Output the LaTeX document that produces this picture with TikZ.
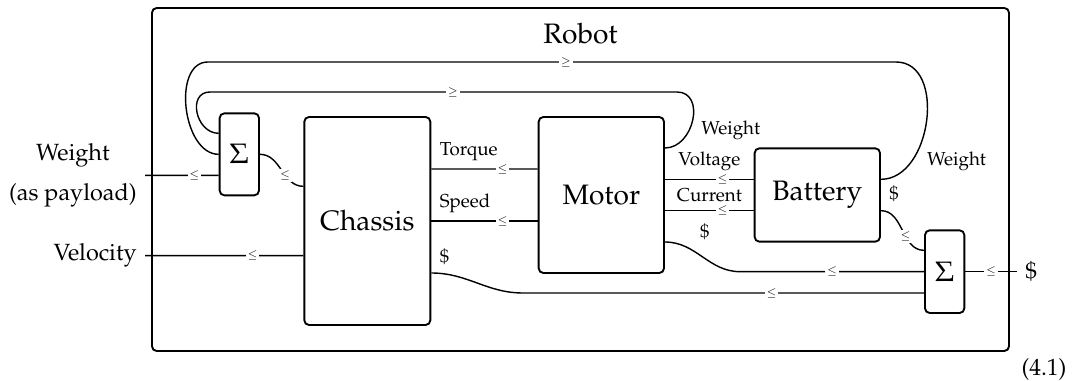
\documentclass[tikz,border=0pt]{standalone}
\usepackage[T1]{fontenc}
\usepackage{mathpazo}
\usepackage{tikz}
\usetikzlibrary{positioning}

\begin{document}
\begin{tikzpicture}[
  box/.style={draw,thick,rectangle,rounded corners=2pt,inner sep=0pt,align=center},
  wire/.style={semithick},
  ord/.style={fill=white,inner sep=0.8pt,font=\tiny},
  port/.style={font=\footnotesize}
]
% Wiring diagram of the robot
\useasboundingbox (0,0) rectangle (16.125,5.715);
\node[box,minimum width=12.855cm,minimum height=5.145cm] (robot) at (8.7075,3.0225) {};
\node[below=0.12cm of robot.north] (robotlbl) {\large Robot};

\node[box,minimum width=0.59cm,minimum height=1.23cm] (sumL) at (3.59,3.40) {\large$\Sigma$};
\node[box,minimum width=1.89cm,minimum height=3.12cm] (chassis) at (5.51,2.40) {\large Chassis};
\node[box,minimum width=1.88cm,minimum height=2.34cm] (motor) at (9.02,2.79) {\large Motor};
\node[box,minimum width=1.88cm,minimum height=1.40cm] (battery) at (12.26,2.79) {\large Battery};
\node[box,minimum width=0.59cm,minimum height=1.24cm] (sumR) at (14.17,1.64) {\large$\Sigma$};

\coordinate (win) at (2.175,3.085);
\coordinate (vin) at (2.175,1.88);
\coordinate (cout) at (15.255,1.64);

% outside ports
\node[left,align=center] (wlbl) at (win) {Weight\\[5pt](as payload)};
\node[left] (vlbl) at (vin) {Velocity};
\node[right] (clbl) at (cout) {\$};
\draw[wire] (win) -- node[ord,pos=0.67] (o1) {$\leq$} ([yshift=-0.315cm]sumL.west);
\draw[wire] (vin) -- node[ord,pos=0.68] (o2) {$\leq$} ([yshift=-0.52cm]chassis.west);
\draw[wire] (sumR.east) -- node[ord] (o3) {$\leq$} (cout);

% inner wires
\draw[wire] (sumL.east) to[out=0,in=180] node[ord,pos=0.6] (o4) {$\leq$} ([yshift=0.52cm]chassis.west);
\draw[wire] ([yshift=0.78cm]chassis.east) -- node[ord,pos=0.67] (o5) {$\leq$} node[port,pos=0,above right] (tq) {Torque} ([yshift=0.39cm]motor.west);
\draw[wire] (chassis.east) -- node[ord,pos=0.67] (o6) {$\leq$} node[port,pos=0,above right] (sp) {Speed} ([yshift=-0.39cm]motor.west);
\draw[wire] ([yshift=0.235cm]motor.east) -- node[ord,pos=0.65] (o7) {$\leq$} node[port,above] (vo) {Voltage} ([yshift=0.235cm]battery.west);
\draw[wire] ([yshift=-0.235cm]motor.east) -- node[ord,pos=0.65] (o8) {$\leq$} node[port,above] (cu) {Current} ([yshift=-0.235cm]battery.west);

% weight loops
\draw[wire] ([yshift=0.705cm]motor.east) to[out=0,in=0,looseness=1.3] node[port,right,yshift=-0.15cm] (mw) {Weight} (10.155,4.335)
  -- node[ord,pos=0.48] (o9) {$\geq$} (3.15,4.335) to[out=180,in=180,looseness=1.4] ([yshift=0.315cm]sumL.west);
\draw[wire] ([yshift=0.235cm]battery.east) to[out=0,in=0,looseness=1.1] node[port,pos=0.25,right,xshift=0.1cm] (bw) {Weight} (13.44,4.785)
  -- node[ord,pos=0.48] (o10) {$\geq$} (3.12,4.785) to[out=180,in=180] (sumL.west);

% cost wires
\draw[wire] ([yshift=-0.235cm]battery.east) to[out=0,in=180] node[ord,pos=0.6] (o11) {$\leq$} node[port,pos=0,above right] (bc) {\$} ([yshift=0.32cm]sumR.west);
\draw[wire] ([yshift=-0.705cm]motor.east) to[out=0,in=180] node[port,pos=0,above right,xshift=0.4cm,yshift=-0.1cm] (mc) {\$} (11.1,1.64)
  -- node[ord] (o12) {$\leq$} (sumR.west);
\draw[wire] ([yshift=-0.78cm]chassis.east) to[out=0,in=180] node[port,pos=0,above right] (cc) {\$} (7.845,1.32)
  -- node[ord,pos=0.62] (o13) {$\leq$} ([yshift=-0.32cm]sumR.west);

\node[anchor=base] (eqno) at (15.66,0.075) {(4.1)};
\end{tikzpicture}
\end{document}
